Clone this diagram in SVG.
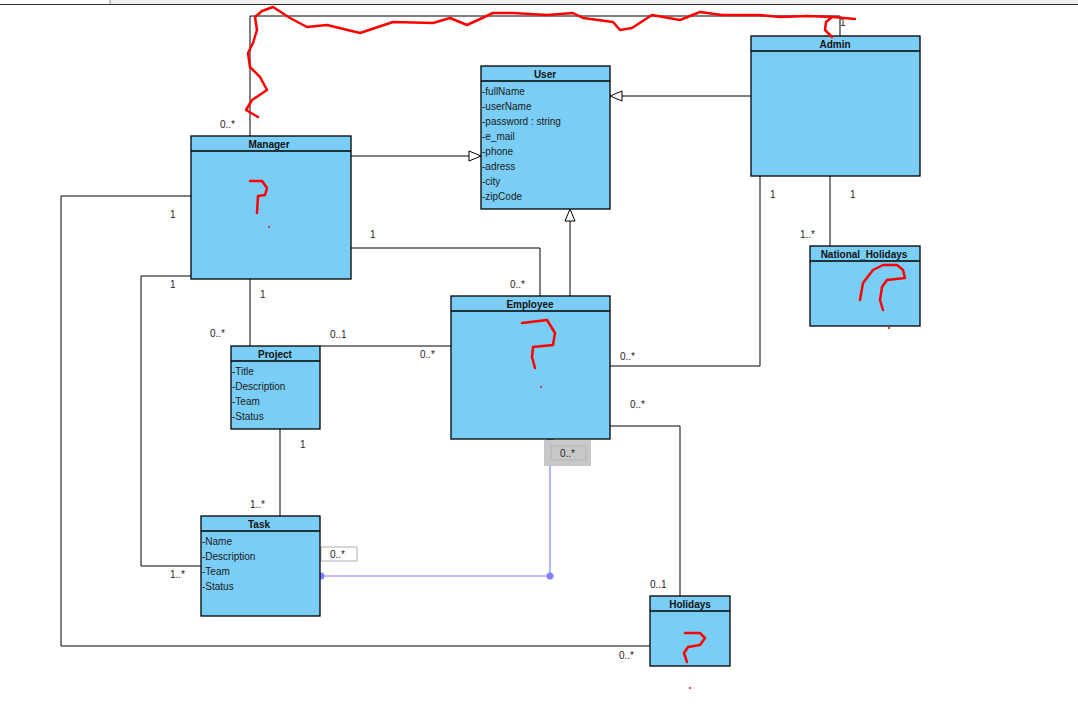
<svg xmlns="http://www.w3.org/2000/svg" width="1078" height="709" viewBox="0 0 1078 709">
  <style>
    .cls { fill: #7acdf4; stroke: #000; stroke-width: 1.3; }
    .sep { stroke: #000; stroke-width: 1.3; }
    .name { font-family: "Liberation Sans", Arial, sans-serif; font-size: 10px; font-weight: bold; fill: #111; text-anchor: middle; }
    .attr { font-family: "Liberation Sans", Arial, sans-serif; font-size: 10px; fill: #1a1a1a; }
    .mult { font-family: "Liberation Sans", Arial, sans-serif; font-size: 10px; fill: #222; }
    .edge { fill: none; stroke: #000; stroke-width: 1; }
    .sel { fill: none; stroke: #8080ff; stroke-width: 1.2; }
    .ink { fill: none; stroke: #f00; stroke-width: 2.5; stroke-linecap: round; stroke-linejoin: round; }
  </style>
  <defs>
    <marker id="gen" markerWidth="14" markerHeight="12" refX="13" refY="6" orient="auto" markerUnits="userSpaceOnUse">
      <path d="M1,1 L13,6 L1,11 Z" fill="#fff" stroke="#000" stroke-width="1"/>
    </marker>
  </defs>

  <rect width="1078" height="709" fill="#fff"/>
  <!-- window toolbar strip -->
  <rect x="110" y="0" width="968" height="4" fill="#f0f0f0"/>
  <line x1="110" y1="0" x2="110" y2="4" stroke="#888"/>
  <line x1="0" y1="4.5" x2="1078" y2="4.5" stroke="#333" stroke-width="1"/>

  <!-- connectors -->
  <g id="connectors">
    <polyline class="edge" points="250,136 250,16 840,16 840,36"/>
    <line class="edge" x1="351" y1="156" x2="481" y2="156" marker-end="url(#gen)"/>
    <line class="edge" x1="751" y1="96" x2="610" y2="96" marker-end="url(#gen)"/>
    <line class="edge" x1="570" y1="296" x2="570" y2="209" marker-end="url(#gen)"/>
    <polyline class="edge" points="351,248 540,248 540,296"/>
    <polyline class="edge" points="191,196 61,196 61,646 650,646"/>
    <polyline class="edge" points="191,276 141,276 141,566 201,566"/>
    <line class="edge" x1="250" y1="279" x2="250" y2="346"/>
    <line class="edge" x1="320" y1="346" x2="451" y2="346"/>
    <line class="edge" x1="280" y1="429" x2="280" y2="516"/>
    <polyline class="edge" points="610,366 760,366 760,176"/>
    <line class="edge" x1="830" y1="176" x2="830" y2="246"/>
    <polyline class="edge" points="610,426 680,426 680,596"/>
    <!-- selected association Employee - Task -->
    <polyline class="sel" points="550,439 550,576 320,576"/>
    <circle cx="550" cy="439" r="3.5" fill="#8080ff"/>
    <circle cx="550" cy="576" r="3.5" fill="#8080ff"/>
    <circle cx="321" cy="576" r="3.5" fill="#8080ff"/>
  </g>

  <!-- multiplicities -->
  <g id="multiplicities">
    <text class="mult" x="220" y="128">0..*</text>
    <text class="mult" x="840" y="26">1</text>
    <text class="mult" x="370" y="238">1</text>
    <text class="mult" x="510" y="288">0..*</text>
    <text class="mult" x="170" y="218">1</text>
    <text class="mult" x="619" y="659">0..*</text>
    <text class="mult" x="170" y="288">1</text>
    <text class="mult" x="170" y="578">1..*</text>
    <text class="mult" x="260" y="298">1</text>
    <text class="mult" x="210" y="337">0..*</text>
    <text class="mult" x="330" y="338">0..1</text>
    <text class="mult" x="420" y="358">0..*</text>
    <text class="mult" x="300" y="448">1</text>
    <text class="mult" x="250" y="508">1..*</text>
    <text class="mult" x="620" y="360">0..*</text>
    <text class="mult" x="770" y="198">1</text>
    <text class="mult" x="850" y="198">1</text>
    <text class="mult" x="800" y="238">1..*</text>
    <text class="mult" x="630" y="408">0..*</text>
    <text class="mult" x="650" y="588">0..1</text>
    <rect x="321" y="547" width="36" height="14" fill="#fff" stroke="#b0b0b0"/>
    <text class="mult" x="330" y="558">0..*</text>
    <rect x="544" y="440" width="47" height="26" fill="#c8c8c8"/>
    <rect x="551" y="446" width="35" height="14" fill="none" stroke="#b4b4b4"/>
    <text class="mult" x="560" y="457">0..*</text>
  </g>

  <!-- classes -->
  <g id="User">
    <rect class="cls" x="481" y="66" width="129" height="143"/>
    <line class="sep" x1="481" y1="81" x2="610" y2="81"/>
    <text class="name" x="545" y="78">User</text>
    <text class="attr" x="482" y="95">-fullName</text>
    <text class="attr" x="482" y="110">-userName</text>
    <text class="attr" x="482" y="125">-password : string</text>
    <text class="attr" x="482" y="140">-e_mail</text>
    <text class="attr" x="482" y="155">-phone</text>
    <text class="attr" x="482" y="170">-adress</text>
    <text class="attr" x="482" y="185">-city</text>
    <text class="attr" x="482" y="200">-zipCode</text>
  </g>
  <g id="Manager">
    <rect class="cls" x="191" y="136" width="160" height="143"/>
    <line class="sep" x1="191" y1="151" x2="351" y2="151"/>
    <text class="name" x="269" y="148">Manager</text>
  </g>
  <g id="Admin">
    <rect class="cls" x="751" y="36" width="169" height="140"/>
    <line class="sep" x1="751" y1="51" x2="920" y2="51"/>
    <text class="name" x="835" y="48">Admin</text>
  </g>
  <g id="National_Holidays">
    <rect class="cls" x="810" y="246" width="110" height="80"/>
    <line class="sep" x1="810" y1="261" x2="920" y2="261"/>
    <text class="name" x="864" y="258">National_Holidays</text>
  </g>
  <g id="Employee">
    <rect class="cls" x="451" y="296" width="159" height="143"/>
    <line class="sep" x1="451" y1="311" x2="610" y2="311"/>
    <text class="name" x="530" y="308">Employee</text>
  </g>
  <g id="Project">
    <rect class="cls" x="231" y="346" width="89" height="83"/>
    <line class="sep" x1="231" y1="361" x2="320" y2="361"/>
    <text class="name" x="275" y="358">Project</text>
    <text class="attr" x="232" y="375">-Title</text>
    <text class="attr" x="232" y="390">-Description</text>
    <text class="attr" x="232" y="405">-Team</text>
    <text class="attr" x="232" y="420">-Status</text>
  </g>
  <g id="Task">
    <rect class="cls" x="201" y="516" width="119" height="100"/>
    <line class="sep" x1="201" y1="531" x2="320" y2="531"/>
    <text class="name" x="259" y="528">Task</text>
    <text class="attr" x="202" y="545">-Name</text>
    <text class="attr" x="202" y="560">-Description</text>
    <text class="attr" x="202" y="575">-Team</text>
    <text class="attr" x="202" y="590">-Status</text>
  </g>
  <g id="Holidays">
    <rect class="cls" x="650" y="596" width="80" height="70"/>
    <line class="sep" x1="650" y1="611" x2="730" y2="611"/>
    <text class="name" x="690" y="608">Holidays</text>
  </g>

  <!-- red freehand annotations -->
  <g id="annotations">
    <path class="ink" d="M258,117 L246,110 L252,100 L267,90 L260,77 L250,67 L248,53 L253,43 L257,30 L255,17 L262,11 L273,7 L290,18 L307,27 L327,25 L360,33 L393,22 L433,23 L450,18 L467,25 L493,13 L513,13 L547,15 L573,13 L583,18 L613,22 L620,30 L632,28 L652,15 L680,20 L700,12 L722,15 L740,15 L760,15 L780,17 L807,16 L833,17 L855,19"/>
    <path class="ink" d="M832,17 L826,22 L825,30 L832,37"/>
    <path class="ink" d="M250,181 L262,181 L267,188 L265,195 L258,196 L257,213"/>
    <circle cx="269" cy="227" r="1" fill="#f00"/>
    <path class="ink" d="M522,323 L547,320 L555,333 L553,345 L533,347 L532,357 L535,368"/>
    <circle cx="541" cy="387" r="1" fill="#f00"/>
    <path class="ink" d="M860,300 L863,283 L873,270 L883,265 L897,265 L903,270 L905,278 L887,280 L882,287 L880,300 L883,310"/>
    <circle cx="889" cy="328" r="1" fill="#f00"/>
    <path class="ink" d="M685,633 L700,633 L705,638 L700,645 L688,647 L684,653 L687,662"/>
    <circle cx="690" cy="688" r="1" fill="#f00"/>
  </g>
</svg>
